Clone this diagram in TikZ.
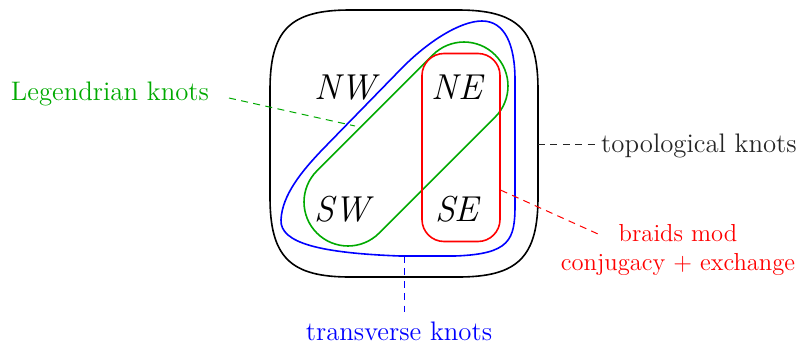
\documentclass[tikz,border=0pt]{standalone}
\usepackage{tikz}
\usetikzlibrary{positioning}
\definecolor{knotgreen}{RGB}{0,170,0}
\tikzstyle{region} = [font=\fontsize{18}{20}\selectfont\itshape]
\tikzstyle{lbl} = [font=\fontsize{13.4}{15}\selectfont, anchor=base, inner sep=2pt]
\tikzstyle{loop} = [line width=0.8pt]
\tikzstyle{lead} = [line width=0.5pt, dash pattern=on 3.5pt off 2.7pt]

\begin{document}
\begin{tikzpicture}[x=0.5pt, y=-0.5pt]
    \useasboundingbox (0,0) rectangle (799,343);

    % Topological knots: rounded square
    \draw[loop] (350,10) -- (458,10) .. controls (518,10) and (538,30) .. (538,90)
        -- (538,197) .. controls (538,257) and (518,277) .. (458,277)
        -- (350,277) .. controls (290,277) and (270,257) .. (270,197)
        -- (270,90) .. controls (270,30) and (290,10) .. (350,10) -- cycle;

    % Transverse knots
    \draw[loop, blue] (482,21) .. controls (460,21) and (427,42) .. (400,70)
        -- (322,150) .. controls (302,171) and (282,195) .. (281,220)
        .. controls (280,243) and (320,253) .. (400,256)
        -- (455,256) .. controls (510,254) and (515,240) .. (515,205)
        -- (515,80) .. controls (515,45) and (505,21) .. (482,21) -- cycle;

    % Legendrian knots and braids
    \node[loop, draw=knotgreen, rounded corners=22pt, minimum width=126pt, minimum height=44pt, inner sep=0pt, rotate=45] (legloop) at (406,144) {};
    \node[loop, draw=red, rounded corners=11pt, minimum width=39pt, minimum height=94pt, inner sep=0pt] (braidloop) at (461,147.5) {};

    % Regions
    \node[region] (nw) at (345,87.5) {NW};
    \node[region] (ne) at (457,87.5) {NE};
    \node[region] (sw) at (342,209.5) {SW};
    \node[region] (se) at (457,209.5) {SE};

    % Labels
    \node[lbl, text=knotgreen] (legtext) at (110,100) {Legendrian knots};
    \node[lbl, text=black!85] (topotext) at (699,152) {topological knots};
    \node[lbl, text=red, align=center, font=\fontsize{12.3}{14.15}\selectfont] (braidtext) at (678,270) {braids mod\\conjugacy + exchange};
    \node[lbl, text=blue] (transtext) at (399,340) {transverse knots};

    % Leads
    \coordinate (legfrom) at (229,98);
    \coordinate (legto) at (355,126);
    \coordinate (toporim) at (538,144);
    \coordinate (bluerim) at (404,256);
    \coordinate (transfrom) at (404,312);
    \coordinate (braidfrom) at (598,234);
    \draw[lead, knotgreen] (legfrom) -- (legto);
    \draw[lead, black!85] (toporim) -- (toporim -| topotext.west);
    \draw[lead, blue] (bluerim) -- (transfrom);
    \draw[lead, red] (braidloop.-47.5) -- (braidfrom);

\end{tikzpicture}
\end{document}
